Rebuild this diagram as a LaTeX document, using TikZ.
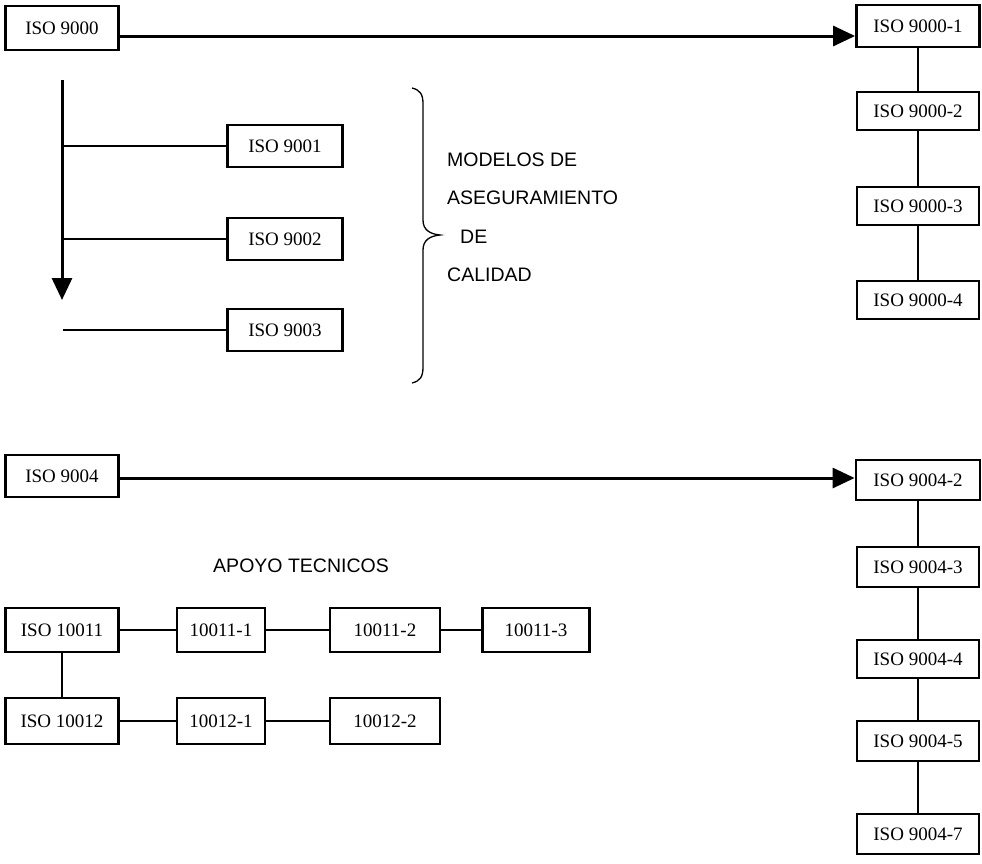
\documentclass[tikz,border=0pt]{standalone}
\usepackage{fontspec}
\setmainfont{Liberation Serif}
\newfontfamily\labfont{Liberation Sans}
\usetikzlibrary{arrows.meta}
\tikzset{
  box/.style={draw, line width=2.8pt, inner sep=0pt, minimum width=115pt, minimum height=42pt,
    font=\fontsize{19}{21}\selectfont},
  conn/.style={line width=1.4pt},
  bigarrow/.style={line width=3pt, -{Triangle[length=22pt,width=20pt]}},
  lab/.style={font=\labfont\fontsize{19.5}{22}\selectfont, inner sep=0pt},
}
\begin{document}
\begin{tikzpicture}[x=1pt,y=-1pt]
\useasboundingbox (0,0) rectangle (982,863);
% top section
\node[box, minimum width=113pt, minimum height=44pt] (n9000) at (62,28) {ISO 9000};
\node[box, minimum width=123pt] (n90001) at (918,26) {ISO 9000-1};
\node[box, minimum width=122pt, minimum height=38pt] (n90002) at (918,111) {ISO 9000-2};
\node[box, minimum width=122pt, minimum height=38pt] (n90003) at (918,206) {ISO 9000-3};
\node[box, minimum width=122pt, minimum height=38pt] (n90004) at (918,300) {ISO 9000-4};
\draw[bigarrow] (n9000.east |- 0,36) -- (n90001.west |- 0,36);
\draw[conn] (n90001) -- (n90002);
\draw[conn] (n90002) -- (n90003);
\draw[conn] (n90003) -- (n90004);

\node[box] (n9001) at (285,146) {ISO 9001};
\node[box] (n9002) at (285,239) {ISO 9002};
\node[box] (n9003) at (285,330) {ISO 9003};
\coordinate (vtop) at (62,80);
\coordinate (vbot) at (62,300);
\coordinate (l3) at (63,0);
\draw[bigarrow] (vtop) -- (vbot);
\draw[line width=2.6pt] (vtop |- n9001.west) -- (n9001.west);
\draw[line width=2.6pt] (vtop |- n9002.west) -- (n9002.west);
\draw[line width=2.6pt] (l3 |- n9003.west) -- (n9003.west);

% brace
\draw[line width=1.3pt] (412,88) .. controls (420,90) and (423,94) .. (423,104)
  -- (423,220) .. controls (423,230) and (430,234) .. (440,235)
  .. controls (430,236) and (423,240) .. (423,250)
  -- (423,367) .. controls (423,377) and (420,381) .. (412,383);
\node[lab, anchor=west] (t1) at (447,160) {MODELOS DE};
\node[lab, anchor=west] (t2) at (447,198) {ASEGURAMIENTO};
\node[lab, anchor=west] (t3) at (460,237) {DE};
\node[lab, anchor=west] (t4) at (447,275) {CALIDAD};

% lower section
\node[box, minimum width=113pt] (n9004) at (62,476) {ISO 9004};
\node[box, minimum width=124pt, minimum height=40pt] (n90042) at (918,480) {ISO 9004-2};
\node[box, minimum width=122pt, minimum height=40pt] (n90043) at (918,567) {ISO 9004-3};
\node[box, minimum width=122pt, minimum height=38pt] (n90044) at (918,659) {ISO 9004-4};
\node[box, minimum width=122pt, minimum height=40pt] (n90045) at (918,741) {ISO 9004-5};
\node[box, minimum width=122pt, minimum height=40pt] (n90047) at (918,834) {ISO 9004-7};
\draw[bigarrow] (n9004.east |- 0,478) -- (n90042.west |- 0,478);
\draw[conn] (n90042) -- (n90043);
\draw[conn] (n90043) -- (n90044);
\draw[conn] (n90044) -- (n90045);
\draw[conn] (n90045) -- (n90047);

\node[lab] (apoyo) at (301,566) {APOYO TECNICOS};

\node[box, minimum width=113pt, minimum height=44pt] (n10011) at (62,630) {ISO 10011};
\node[box, minimum width=88pt, minimum height=44pt] (n100111) at (221,630) {10011-1};
\node[box, minimum width=110pt, minimum height=44pt] (n100112) at (385,630) {10011-2};
\node[box, minimum width=107pt, minimum height=44pt] (n100113) at (536,630) {10011-3};
\node[box, minimum width=113pt, minimum height=46pt] (n10012) at (62,721) {ISO 10012};
\node[box, minimum width=88pt, minimum height=46pt] (n100121) at (221,721) {10012-1};
\node[box, minimum width=110pt, minimum height=46pt] (n100122) at (385,721) {10012-2};
\draw[conn] (n10011) -- (n100111);
\draw[conn] (n100111) -- (n100112);
\draw[conn] (n100112) -- (n100113);
\draw[conn] (n10011) -- (n10012);
\draw[conn] (n10012) -- (n100121);
\draw[conn] (n100121) -- (n100122);
\end{tikzpicture}
\end{document}
